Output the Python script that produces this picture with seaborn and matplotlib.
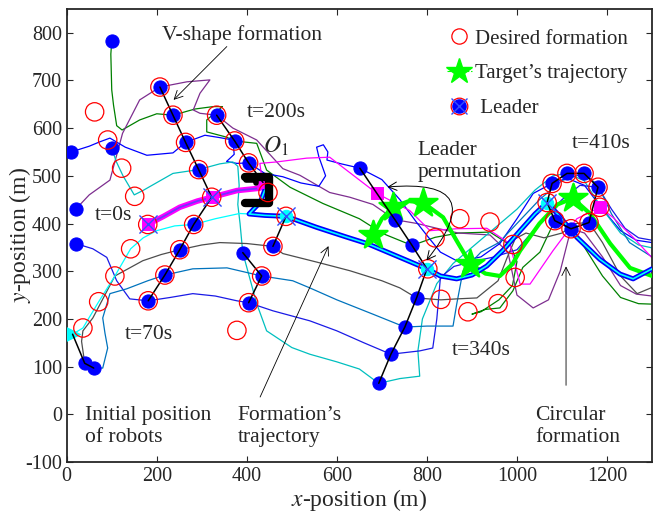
import matplotlib
matplotlib.use('Agg')
import matplotlib.pyplot as plt
import seaborn as sns
from matplotlib.lines import Line2D

# robot trajectories (x, y in m)
g_x = [100, 98, 100, 104, 111, 123, 162, 200, 236, 285, 325, 346, 311, 311, 355, 373, 422, 444, 496, 569, 650, 702, 767, 818, 870, 940, 985, 1000, 990, 960, 920, 900, 930, 962, 991, 1013, 1051, 1084, 1110, 1150, 1190, 1230, 1270, 1300]
g_y = [782, 755, 680, 648, 605, 596, 617, 630, 627, 640, 645, 645, 617, 592, 581, 573, 568, 512, 476, 442, 410, 379, 354, 371, 380, 382, 355, 320, 270, 240, 215, 210, 220, 223, 259, 308, 340, 406, 400, 350, 290, 245, 232, 231]
p_x = [20, 50, 96, 124, 162, 207, 267, 318, 296, 281, 296, 333, 369, 422, 480, 518, 584, 629, 680, 729, 778, 822, 870, 940, 980, 1000, 1036, 1070, 1096, 1120, 1150, 1190, 1230, 1265, 1300]
p_y = [430, 460, 491, 589, 659, 686, 697, 701, 673, 638, 631, 627, 600, 575, 515, 501, 465, 455, 440, 408, 400, 390, 380, 376, 340, 250, 223, 240, 300, 389, 380, 330, 270, 252, 248]
b1_x = [10, 50, 73, 96, 130, 178, 236, 264, 307, 340, 369, 372, 355, 378, 404, 440, 480, 520, 560, 575, 560, 555, 570, 580, 578, 610, 651, 700, 740, 775, 800, 830, 870, 920, 962, 1000, 1036, 1078, 1111, 1150, 1190, 1230, 1265, 1300]
b1_y = [550, 562, 571, 579, 560, 543, 548, 570, 585, 580, 575, 545, 530, 526, 527, 505, 498, 485, 478, 500, 540, 560, 565, 550, 533, 525, 516, 492, 450, 405, 375, 340, 320, 330, 358, 410, 463, 484, 495, 480, 430, 385, 365, 360]
dc_x = [100, 110, 125, 150, 169, 236, 293, 340, 369, 380, 383, 380, 385, 391, 422, 444, 500, 540, 600, 650, 693, 740, 784, 780, 790, 822, 858, 900, 950, 1000, 1040, 1080, 1111, 1149, 1190, 1230, 1270, 1300]
dc_y = [558, 530, 500, 460, 469, 505, 513, 525, 529, 520, 480, 440, 400, 339, 232, 175, 140, 126, 110, 95, 65, 75, 80, 133, 200, 274, 316, 350, 390, 430, 470, 500, 505, 490, 430, 380, 355, 349]
b2_x = [20, 58, 89, 111, 140, 181, 230, 280, 330, 378, 404, 458, 540, 600, 660, 720, 784, 813, 822, 830, 860, 900, 950, 1000, 1050, 1100, 1140, 1180, 1210, 1240, 1270, 1300]
b2_y = [358, 347, 329, 280, 242, 238, 245, 253, 248, 238, 234, 217, 196, 175, 150, 126, 133, 139, 200, 287, 310, 320, 330, 345, 400, 450, 480, 476, 430, 390, 370, 365]
sb_x = [60, 80, 91, 85, 80, 96, 133, 180, 218, 280, 356, 433, 502, 540, 600, 680, 751, 800, 858, 866, 880, 920, 960, 1000, 1050, 1100, 1149, 1180, 1210, 1250, 1300]
sb_y = [97, 97, 139, 170, 202, 253, 263, 280, 292, 305, 307, 290, 280, 265, 240, 210, 183, 185, 185, 230, 300, 340, 360, 400, 450, 490, 505, 480, 420, 360, 330]
gr_x = [40, 33, 36, 58, 107, 169, 210, 251, 300, 340, 400, 458, 480, 560, 629, 700, 740, 777, 831, 866, 911, 958, 978, 996, 1020, 1060, 1100, 1130, 1160, 1190, 1230, 1267, 1300]
gr_y = [107, 153, 175, 202, 290, 322, 335, 345, 355, 360, 358, 352, 337, 318, 301, 280, 265, 244, 240, 242, 244, 280, 328, 368, 380, 370, 380, 400, 402, 360, 290, 253, 266]
m_x = [440, 432, 429, 466, 533, 584, 613, 689, 762, 807, 866, 933, 984, 1007, 1029, 1080, 1133, 1184, 1213, 1258, 1300]
m_y = [482, 505, 526, 529, 537, 539, 518, 463, 427, 385, 389, 390, 358, 273, 273, 343, 410, 434, 413, 371, 328]
bc_x = [13, 36, 71, 107, 142, 170, 200, 240, 282, 330, 384, 405]
bc_y = [168, 181, 236, 290, 347, 370, 385, 395, 398, 410, 421, 420]

# leader trajectories
lead1_x = [180, 215, 251, 290, 322, 378, 429, 440]
lead1_y = [398, 415, 434, 447, 455, 469, 474, 480]
lead2_x = [440, 430, 405, 440, 487, 555, 620, 667, 740, 800, 830, 866, 900, 933, 970, 1007, 1040, 1067, 1089, 1133, 1184, 1229, 1258, 1300]
lead2_y = [470, 445, 420, 417, 415, 392, 372, 358, 329, 305, 290, 284, 292, 311, 345, 385, 420, 444, 421, 371, 325, 294, 284, 305]

# target trajectory
tg_x = [680, 700, 724, 760, 791, 836, 866, 896, 930, 962, 990, 1007, 1050, 1090, 1124, 1162, 1207, 1251, 1300]
tg_y = [375, 410, 434, 447, 444, 413, 364, 316, 295, 290, 315, 343, 400, 440, 453, 421, 358, 307, 290]
star_x = [680, 724, 791, 896, 1124]
star_y = [375, 434, 444, 316, 453]

# desired formation (red circles)
des_x = [62, 91, 122, 151, 180, 142, 107, 71, 36,
         207, 236, 264, 293, 322, 282, 251, 218, 181,
         333, 373, 404, 447, 487, 458, 433, 404, 378,
         802, 818, 873, 940, 991, 996, 958, 891, 831,
         1067, 1078, 1111, 1149, 1180, 1184, 1160, 1120, 1084]
des_y = [634, 575, 516, 457, 398, 347, 290, 236, 181,
         686, 627, 570, 513, 455, 398, 345, 292, 238,
         627, 573, 527, 465, 415, 352, 290, 234, 176,
         305, 370, 410, 403, 356, 287, 232, 215, 241,
         444, 484, 505, 505, 476, 434, 402, 389, 406]

# robots (blue dots)
dot_x = [100, 10, 100, 20, 20, 40, 60,
         207, 236, 264, 293, 282, 251, 218, 181,
         333, 373, 404, 458, 433, 404, 391,
         651, 729, 767, 777, 751, 720, 693,
         1078, 1111, 1149, 1180, 1160, 1120, 1084]
dot_y = [782, 550, 558, 430, 358, 107, 97,
         686, 627, 570, 513, 398, 345, 292, 238,
         627, 573, 527, 352, 290, 234, 339,
         516, 408, 354, 244, 183, 126, 65,
         484, 505, 505, 476, 402, 389, 406]

# leaders
mag_x = [180, 322, 436, 689, 1184]
mag_y = [398, 455, 486, 463, 434]
cyan_x = [487, 800, 1067]
cyan_y = [415, 305, 444]
lx_x = [180, 322, 487, 800, 1067]
lx_y = [398, 455, 415, 305, 444]

# formation links
f0_x = [13, 40, 60]
f0_y = [168, 107, 97]
f70_x = [207, 236, 264, 293, 322, 282, 251, 218, 181]
f70_y = [686, 627, 570, 513, 455, 398, 345, 292, 238]
f200a_x = [333, 373, 404, 436]
f200a_y = [627, 573, 527, 486]
f200b_x = [487, 458]
f200b_y = [415, 352]
f200c_x = [391, 433, 404]
f200c_y = [339, 290, 234]
f340_x = [651, 689, 729, 767, 800, 777, 751, 720, 693]
f340_y = [516, 463, 408, 354, 305, 244, 183, 126, 65]
f410_x = [1067, 1078, 1111, 1149, 1180, 1160, 1120, 1084, 1067]
f410_y = [444, 484, 505, 505, 476, 402, 389, 406, 444]

# obstacle O1
obs_x = [396, 449, 449, 396]
obs_y = [498, 498, 444, 444]
notch_x = [398, 420, 420]
notch_y = [492, 492, 484]

sns.set_style('ticks')
plt.rcParams['font.family'] = ['Liberation Serif', 'DejaVu Serif']
plt.rcParams['mathtext.fontset'] = 'stix'
plt.rcParams['axes.unicode_minus'] = False
plt.rcParams['font.size'] = 15

fig = plt.figure(figsize=(6.54, 5.18), dpi=100)
ax = fig.add_axes([0.102, 0.108, 0.895, 0.875])

def line(x, y, color, lw=0.9, z=2, **kw):
    sns.lineplot(x=x, y=y, sort=False, estimator=None, color=color,
                 linewidth=lw, zorder=z, ax=ax, **kw)

robots = [(g_x, g_y, (0, 0.5, 0)), (p_x, p_y, (0.49, 0.18, 0.56)),
          (b1_x, b1_y, (0, 0, 1)), (dc_x, dc_y, (0, 0.75, 0.75)),
          (b2_x, b2_y, (0.1, 0.1, 0.9)), (sb_x, sb_y, (0, 0.45, 0.74)),
          (gr_x, gr_y, (0.3, 0.3, 0.3)), (m_x, m_y, (1, 0, 1)),
          (bc_x, bc_y, (0, 1, 1))]
for x, y, c in robots:
    line(x, y, c)

line(tg_x, tg_y, (0, 1, 0), lw=3, z=3)
line(lead1_x, lead1_y, (1, 0, 1), lw=4, z=3)
line(lead1_x, lead1_y, (0.45, 0.2, 1), lw=1.3, z=3)
line(lead2_x, lead2_y, (0, 0, 1), lw=3.6, z=3)
line(lead2_x, lead2_y, (0, 1, 1), lw=1.2, z=3)

sns.scatterplot(x=star_x, y=star_y, marker='*', s=450, color=(0, 1, 0),
                edgecolor=(0, 1, 0), zorder=4, ax=ax)
sns.scatterplot(x=dot_x, y=dot_y, s=90, color=(0, 0, 1), edgecolor=(0, 0, 1),
                zorder=5, ax=ax)
sns.scatterplot(x=mag_x, y=mag_y, marker='s', s=75, color=(1, 0, 1),
                edgecolor=(1, 0, 1), zorder=5, ax=ax)
sns.scatterplot(x=cyan_x, y=cyan_y, marker='o', s=80, color=(0, 1, 1),
                edgecolor=(0, 1, 1), zorder=5, ax=ax)
sns.scatterplot(x=[13], y=[168], marker='>', s=100, color=(0, 1, 1),
                edgecolor=(0, 1, 1), zorder=5, ax=ax)

for fx, fy in [(f0_x, f0_y), (f70_x, f70_y), (f200a_x, f200a_y), (f200b_x, f200b_y),
               (f200c_x, f200c_y), (f340_x, f340_y), (f410_x, f410_y)]:
    line(fx, fy, 'black', lw=1.1, z=6)

sns.scatterplot(x=des_x, y=des_y, s=175, color='red', facecolor='none',
                edgecolor='red', linewidth=0.9, zorder=7, ax=ax)
sns.scatterplot(x=lx_x, y=lx_y, marker='x', s=170, color=(0.2, 0.3, 1),
                linewidth=1.0, zorder=8, ax=ax)

line(obs_x, obs_y, 'black', lw=6, z=6)
line(notch_x, notch_y, 'black', lw=4, z=6)

ax.set_xlim(0, 1300)
ax.set_ylim(-100, 850)
ax.set_xticks(range(0, 1300, 200))
ax.set_yticks(range(-100, 850, 100))
ax.tick_params(direction='in', top=True, right=True, length=4, labelsize=14.5)
for s in ax.spines.values():
    s.set_linewidth(1.3)
ax.set_xlabel('$x$-position (m)', fontsize=17, labelpad=1)
ax.set_ylabel('$y$-position (m)', fontsize=17)
ax.yaxis.set_label_coords(-0.058, 0.5)

# annotations
fs = 15.5
arrow = dict(arrowstyle='->', lw=0.6, color='black')
ax.text(389, 796, 'V-shape formation', ha='center', va='center', fontsize=fs)
ax.annotate('', xy=(233, 655), xytext=(360, 775), arrowprops=arrow, zorder=9)
ax.text(400, 632, 't=200s', va='center', fontsize=fs)
ax.text(436, 562, '$O_{\\mathit{1}}$', va='center', fontsize=17)
ax.text(62, 417, 't=0s', va='center', fontsize=fs)
ax.text(129, 168, 't=70s', va='center', fontsize=fs)
ax.text(40, -25, 'Initial position\nof robots', va='center', fontsize=fs,
        linespacing=1.2)
ax.text(380, -25, 'Formation\u2019s\ntrajectory', va='center', fontsize=fs,
        linespacing=1.2)
ax.annotate('', xy=(584, 358), xytext=(427, 31), arrowprops=arrow, zorder=9)
ax.text(780, 530, 'Leader\npermutation', va='center', fontsize=fs,
        linespacing=1.2)
ax.annotate('', xy=(706, 476), xytext=(795, 318), zorder=9,
            arrowprops=dict(arrowstyle='<->', lw=0.7, color='black',
                            connectionstyle='arc3,rad=1.2'))
ax.text(855, 133, 't=340s', va='center', fontsize=fs)
ax.text(1122, 568, 't=410s', va='center', fontsize=fs)
ax.text(1040, -25, 'Circular\nformation', va='center', fontsize=fs,
        linespacing=1.2)
ax.annotate('', xy=(1109, 316), xytext=(1109, 55), arrowprops=arrow, zorder=9)

# legend
h1 = Line2D([], [], marker='o', ls='none', mfc='none', mec='red', ms=11, mew=0.9)
h2 = Line2D([], [], marker='*', ls='--', lw=0.8, color=(0, 1, 0), ms=19)
h3a = Line2D([], [], marker='o', ls='none', mfc='none', mec='red', ms=12, mew=0.9)
h3b = Line2D([], [], marker='o', ls='none', color=(0, 0, 1), ms=9.5)
h3c = Line2D([], [], marker='x', ls='none', color=(0.2, 0.3, 1), ms=12, mew=1)
ax.legend(handles=[h1, h2, (h3a, h3b, h3c)],
          labels=['Desired formation', 'Target\u2019s trajectory', ' Leader'],
          loc='upper left', bbox_to_anchor=(0.649, 0.955), frameon=False,
          fontsize=15, handlelength=1.2, handletextpad=0.15, labelspacing=0.72,
          borderpad=0, borderaxespad=0)

fig.savefig('out.png', dpi=100)
